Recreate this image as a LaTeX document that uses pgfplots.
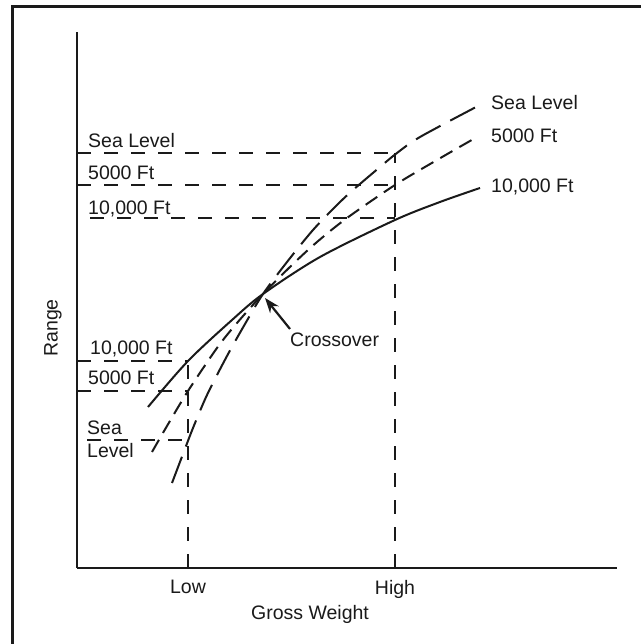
\documentclass[border=0pt]{standalone}
\usepackage{fontspec}
\setmainfont{Liberation Sans}
\usepackage{pgfplots}
\pgfplotsset{compat=1.18}
\usetikzlibrary{arrows.meta}
\newcommand\fs{\fontsize{19.5bp}{23bp}\selectfont}
\definecolor{ink}{HTML}{1A1A1A}
\tikzset{
  guide/.style={line width=2bp, color=ink, dash pattern=on 14bp off 13bp},
  lbl/.style={font=\fs, color=ink, inner sep=0pt, anchor=base west},
}
\begin{document}
\begin{tikzpicture}[x=1bp,y=1bp]
\path[use as bounding box] (0,0) rectangle (641,644);
\fill[white] (0,0) rectangle (641,644);
\draw[line width=3bp, color=ink] (12.5,0) -- (12.5,637.5) -- (641,637.5);
\begin{axis}[
  at={(77bp,76bp)}, anchor=south west,
  scale only axis, width=540bp, height=536bp,
  xmin=0, xmax=540, ymin=0, ymax=536,
  clip=false,
  axis x line*=bottom, axis y line*=left,
  axis line style={line width=2bp, -, color=ink},
  xtick={111,318}, xticklabels={Low,High},
  ytick=\empty,
  major tick length=0pt,
  tick label style={font=\fs, color=ink},
  xticklabel style={yshift=-9bp},
]
% guide lines
\addplot[guide] coordinates {(0,415) (318,415)};
\addplot[guide] coordinates {(0,383) (318,383)};
\addplot[guide] coordinates {(13,350) (318,350)};
\addplot[guide] coordinates {(318,0) (318,415)};
\addplot[guide] coordinates {(0,207) (111,207)};
\addplot[guide] coordinates {(0,177) (111,177)};
\addplot[guide] coordinates {(10,128) (111,128)};
\addplot[guide] coordinates {(111,0) (111,207)};
% 10,000 Ft (solid)
\addplot[line width=2bp, color=ink, smooth] coordinates {
 (71,161) (111,207) (155,248) (186,274) (243,311) (318,348) (363,366) (403,380)};
% 5000 Ft (short dash)
\addplot[line width=2bp, color=ink, smooth, dash pattern=on 14bp off 8bp] coordinates {
 (75,116) (90,142) (111,177) (140,220) (160,245) (186,274) (215,303) (240,326) (270,350) (318,383) (360,408) (400,431)};
% Sea Level (long dash)
\addplot[line width=2bp, color=ink, smooth, dash pattern=on 28bp off 11bp] coordinates {
 (95,85) (106,114) (116,140) (130,173) (150,212) (168,244) (186,274) (210,306) (236,338) (260,363) (276,378) (303,401) (320,415) (343,431) (401,462)};
% labels
\node[lbl] at (axis cs:11,420) {Sea Level};
\node[lbl] at (axis cs:11,388) {5000 Ft};
\node[lbl] at (axis cs:11,353) {10,000 Ft};
\node[lbl] at (axis cs:13,213) {10,000 Ft};
\node[lbl] at (axis cs:11,183) {5000 Ft};
\node[lbl] at (axis cs:10,133) {Sea};
\node[lbl] at (axis cs:10,110) {Level};
\node[lbl] at (axis cs:414,458) {Sea Level};
\node[lbl] at (axis cs:414,425) {5000 Ft};
\node[lbl] at (axis cs:414,375) {10,000 Ft};
\node[lbl] at (axis cs:213,221) {Crossover};
\draw[line width=2.2bp, color=ink, -{Stealth[length=15bp,width=11bp]}] (axis cs:213,239) -- (axis cs:188,270);
\node[font=\fs, color=ink] at (axis cs:233,-46) {Gross Weight};
\node[font=\fs, color=ink, rotate=90] at (axis cs:-24,240) {Range};
\end{axis}
\end{tikzpicture}
\end{document}
